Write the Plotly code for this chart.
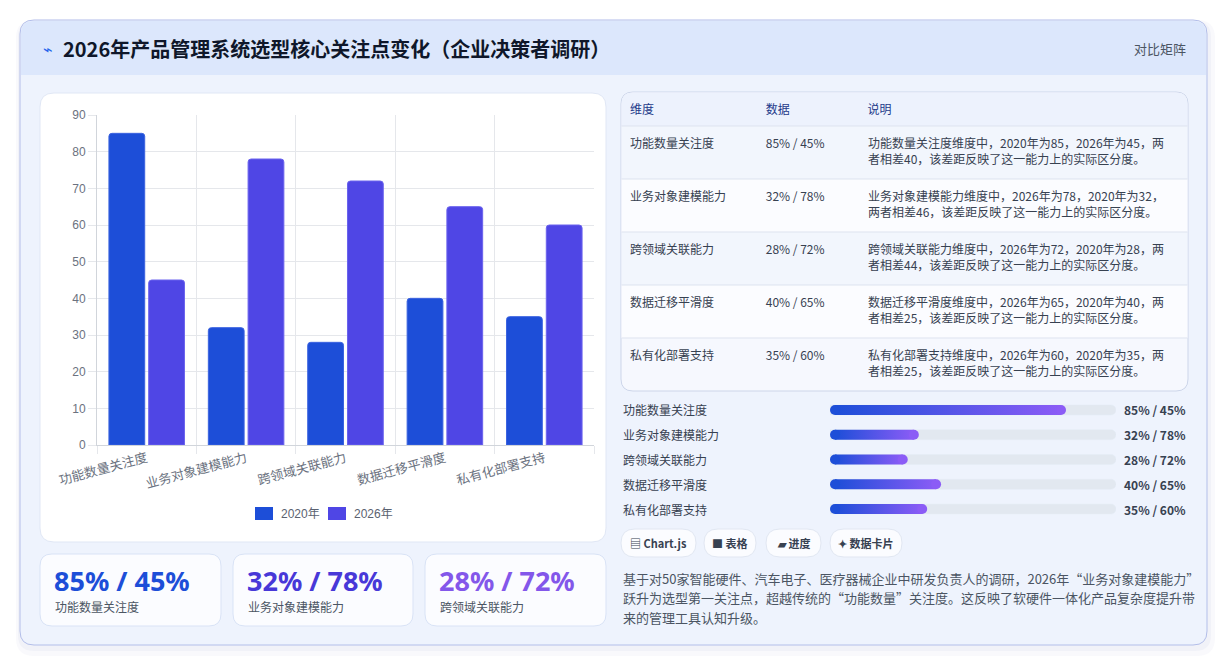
import plotly.graph_objects as go

# 数据
dims = ["功能数量关注度", "业务对象建模能力", "跨领域关联能力", "数据迁移平滑度", "私有化部署支持"]
v2020 = [85, 32, 28, 40, 35]
v2026 = [45, 78, 72, 65, 60]
series_names = ["2020年", "2026年"]
series_colors = ["#1d4ed8", "#4f46e5"]
desc = [
    "功能数量关注度维度中，2020年为85，2026年为45，两<br>者相差40，该差距反映了这一能力上的实际区分度。",
    "业务对象建模能力维度中，2026年为78，2020年为32，<br>两者相差46，该差距反映了这一能力上的实际区分度。",
    "跨领域关联能力维度中，2026年为72，2020年为28，两<br>者相差44，该差距反映了这一能力上的实际区分度。",
    "数据迁移平滑度维度中，2026年为65，2020年为40，两<br>者相差25，该差距反映了这一能力上的实际区分度。",
    "私有化部署支持维度中，2026年为60，2020年为35，两<br>者相差25，该差距反映了这一能力上的实际区分度。",
]
buttons = ["▤ Chart.js", "■ 表格", "▰ 进度", "✦ 数据卡片"]
note_lines = [
    "基于对50家智能硬件、汽车电子、医疗器械企业中研发负责人的调研，2026年“业务对象建模能力”",
    "跃升为选型第一关注点，超越传统的“功能数量”关注度。这反映了软硬件一体化产品复杂度提升带",
    "来的管理工具认知升级。",
]
pairs = [f"{a}% / {b}%" for a, b in zip(v2020, v2026)]

W, H = 1228, 666
CJK = "Noto Sans CJK SC, Noto Sans, sans-serif"


def px(x):
    return x / W


def py(y):
    return 1 - y / H


def rr(x0, y0, x1, y1, r, bottom=True):
    # 圆角矩形路径（像素 -> paper）
    def p(x, y):
        return f"{px(x):.5f},{py(y):.5f}"
    s = f"M {p(x0 + r, y0)} L {p(x1 - r, y0)} Q {p(x1, y0)} {p(x1, y0 + r)} "
    if bottom:
        s += f"L {p(x1, y1 - r)} Q {p(x1, y1)} {p(x1 - r, y1)} L {p(x0 + r, y1)} Q {p(x0, y1)} {p(x0, y1 - r)} "
    else:
        s += f"L {p(x1, y1)} L {p(x0, y1)} "
    s += f"L {p(x0, y0 + r)} Q {p(x0, y0)} {p(x0 + r, y0)} Z"
    return s


shapes = []


def box(x0, y0, x1, y1, r, fill, line=None, bottom=True):
    shapes.append(dict(type="path", xref="paper", yref="paper", path=rr(x0, y0, x1, y1, r, bottom),
                       fillcolor=fill, line=dict(color=line or "rgba(0,0,0,0)", width=1), layer="below"))


def rect(x0, y0, x1, y1, fill):
    shapes.append(dict(type="rect", xref="paper", yref="paper", x0=px(x0), x1=px(x1), y0=py(y1), y1=py(y0),
                       fillcolor=fill, line=dict(width=0), layer="below"))


def hline(x0, x1, y, color):
    shapes.append(dict(type="line", xref="paper", yref="paper", x0=px(x0), x1=px(x1), y0=py(y), y1=py(y),
                       line=dict(color=color, width=1), layer="below"))


# 外框、阴影
box(16, 20, 1215, 656, 18, "rgba(90,110,180,0.04)")
box(18, 21, 1211, 651, 16, "rgba(90,110,180,0.05)")
box(20, 20, 1207, 645, 14, "#eef3fd", "#b3bee9")
box(21, 21, 1206, 75, 13, "#dce7fc", bottom=False)
# 图表卡片
box(40, 93, 606, 542, 14, "#ffffff", "#e0e7f5")
# KPI 卡片
kpi_x = [(40, 221), (233, 413), (425, 606)]
for x0, x1 in kpi_x:
    box(x0, 554, x1, 626, 12, "#fbfcff", "#d9e3f6")
# 表格卡片（行底色 + 分隔线）
row_fill = ["#f2f6fd", "#fbfcff", "#f2f6fd", "#fbfcff", "#f6f8fe"]
box(621, 92, 1188, 391, 12, row_fill[-1], "#cdd6ea")
box(621.5, 92.5, 1187.5, 126, 11.5, "#edf2fd", bottom=False)
for i in range(4):
    rect(621.5, 126 + 53 * i, 1187.5, 126 + 53 * (i + 1), row_fill[i])
for i in range(5):
    hline(621.5, 1187.5, 126 + 53 * i, "#dde3ef")
# 按钮
btn_x = [(621, 696), (704, 756), (766, 821), (830, 902)]
for x0, x1 in btn_x:
    box(x0, 529, x1, 557, 14, "#fbfcff", "#e1e7f2")

fig = go.Figure()

# 柱状图
edge = ["#3b63e0", "#6b63ee"]
for name, vals, c, e in zip(series_names, [v2020, v2026], series_colors, edge):
    fig.add_trace(go.Bar(x=dims, y=vals, name=name, showlegend=False,
                         marker=dict(color=c, cornerradius=3, line=dict(color=e, width=1))))

# 图例（手绘，贴合原图间距）
leg_x = [255, 328]
ann = []
for name, c, lx in zip(series_names, series_colors, leg_x):
    rect(lx, 507, lx + 18, 520, c)
    ann.append(dict(x=px(lx + 24), y=py(513.5), xref="paper", yref="paper", text=name, showarrow=False,
                    xanchor="left", yanchor="middle",
                    font=dict(family="Liberation Sans, " + CJK, size=12, color="#5b6270")))

# 进度条
TRACK = 103
rows = list(range(len(dims)))
bh = 10 / 24.75
fig.add_trace(go.Bar(x=[TRACK] * len(dims), y=rows, orientation="h", width=bh, xaxis="x2", yaxis="y2",
                     marker=dict(color="#e2e8f0", cornerradius="50%"), showlegend=False))
r = 5 * TRACK / 286
for i, v in enumerate(v2020):
    fig.add_trace(go.Scatter(x=[r, v - r, v - r, r, r], y=[i - bh / 2, i - bh / 2, i + bh / 2, i + bh / 2, i - bh / 2],
                             xaxis="x2", yaxis="y2", mode="none", fill="toself", showlegend=False,
                             fillgradient=dict(type="horizontal", colorscale=[[0, "#1d4ed8"], [1, "#8b5cf6"]])))
    fig.add_trace(go.Scatter(x=[r, v - r], y=[i, i], xaxis="x2", yaxis="y2", mode="markers", showlegend=False,
                             marker=dict(size=10, color=["#1d4ed8", "#8b5cf6"], line=dict(width=0))))

# 表格（底色由上面的形状绘制；说明列单独一张表以对齐首行）
clear = "rgba(0,0,0,0)"
fig.add_trace(go.Table(
    domain=dict(x=[px(622), px(1188)], y=[py(397), py(97)]),
    columnwidth=[136, 102, 329],
    header=dict(values=["维度", "数据", "说明"], fill_color=clear, align="left", height=34,
                font=dict(family=CJK, size=12, color="#1e3a8a"), line=dict(color=clear, width=0)),
    cells=dict(values=[dims, pairs, [""] * len(dims)], fill_color=clear, align="left", height=53,
               font=dict(family=CJK, size=12, color="#374151"), line=dict(color=clear, width=0)),
))
fig.add_trace(go.Table(
    domain=dict(x=[px(860), px(1188)], y=[py(392), py(92)]),
    header=dict(values=[""], fill_color=clear, height=34, line=dict(color=clear, width=0)),
    cells=dict(values=[desc], fill_color=clear, align="left", height=53,
               font=dict(family=CJK, size=12, color="#374151"), line=dict(color=clear, width=0)),
))

ann.append(dict(x=px(41), y=py(49), text="⌁", font=dict(size=16, color="#2563eb"), showarrow=False,
                xanchor="left", yanchor="middle", xref="paper", yref="paper"))
ann.append(dict(x=px(61), y=py(48), text="<b>2026年产品管理系统选型核心关注点变化（企业决策者调研）</b>",
                font=dict(family=CJK, size=20, color="#0f172a"), showarrow=False,
                xanchor="left", yanchor="middle", xref="paper", yref="paper"))
ann.append(dict(x=px(1188), y=py(48), text="对比矩阵", font=dict(family=CJK, size=13, color="#4b5563"),
                showarrow=False, xanchor="right", yanchor="middle", xref="paper", yref="paper"))

for i, d in enumerate(dims):
    ann.append(dict(x=px(621), y=i, xref="paper", yref="y2", text=d, showarrow=False, xanchor="left",
                    yanchor="middle", font=dict(family=CJK, size=12, color="#374151")))
    ann.append(dict(x=px(1188), y=i, xref="paper", yref="y2", text=f"<b>{pairs[i]}</b>", showarrow=False,
                    xanchor="right", yanchor="middle", font=dict(family=CJK, size=12, color="#374151")))

kpi_colors = ["#1d4ed8", "#4838d8", "#8357ea"]
for k, (x0, x1) in enumerate(kpi_x):
    ann.append(dict(x=px(x0 + 12), y=py(580), xref="paper", yref="paper", text=f"<b>{pairs[k]}</b>",
                    showarrow=False, xanchor="left", yanchor="middle",
                    font=dict(family="Noto Sans, sans-serif", size=27, color=kpi_colors[k])))
    ann.append(dict(x=px(x0 + 13), y=py(606), xref="paper", yref="paper", text=dims[k], showarrow=False,
                    xanchor="left", yanchor="middle", font=dict(family=CJK, size=12, color="#4b5563")))

for b, (x0, x1) in zip(buttons, btn_x):
    ann.append(dict(x=px((x0 + x1) / 2), y=py(543), xref="paper", yref="paper", text=f"<b>{b}</b>",
                    showarrow=False, xanchor="center", yanchor="middle",
                    font=dict(family=CJK, size=11, color="#374151")))

for j, line in enumerate(note_lines):
    ann.append(dict(x=px(621), y=py(578 + 19.5 * j), xref="paper", yref="paper", text=line, showarrow=False,
                    xanchor="left", yanchor="middle", font=dict(family=CJK, size=13, color="#4b5563")))

fig.update_layout(
    width=W, height=H, margin=dict(l=0, r=0, t=0, b=0, autoexpand=False),
    paper_bgcolor="#ffffff", plot_bgcolor="rgba(0,0,0,0)",
    barmode="group", bargap=0.2, bargroupgap=0.1, hovermode=False, showlegend=False,
    shapes=shapes, annotations=ann,
    xaxis=dict(domain=[px(97), px(594)], type="category", tickson="boundaries", showgrid=True,
               gridcolor="#e5e7eb", ticks="outside", ticklen=8, tickcolor="#e5e7eb", showline=True,
               linecolor="#d1d5db", tickangle=-15, tickfont=dict(family=CJK, size=13, color="#6b7280")),
    yaxis=dict(domain=[py(445), py(115)], range=[0, 90], dtick=10, ticks="outside", ticklen=8,
               tickcolor="#e5e7eb", gridcolor="#e5e7eb", showline=True, linecolor="#d1d5db", zeroline=False,
               tickfont=dict(family="Liberation Sans, Arial, sans-serif", size=12, color="#6b7280")),
    xaxis2=dict(domain=[px(830), px(1116)], range=[0, TRACK], visible=False, fixedrange=True),
    yaxis2=dict(domain=[py(521.4), py(397.6)], range=[4.5, -0.5], visible=False, fixedrange=True),
)

fig.write_html("out.html", config={"displayModeBar": False},
               post_script="document.body.style.margin='0';document.body.style.overflow='hidden';")
